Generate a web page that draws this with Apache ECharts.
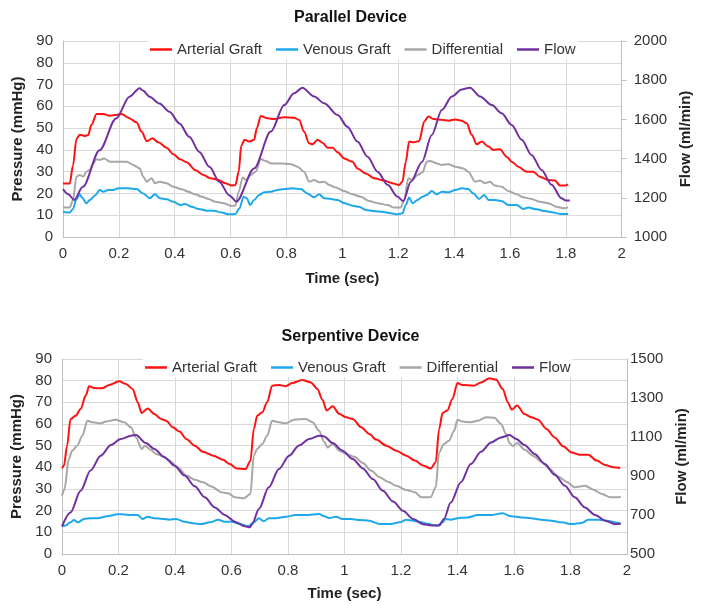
<!DOCTYPE html>
<html>
<head>
<meta charset="utf-8">
<script src="https://cdn.jsdelivr.net/npm/echarts@6/dist/echarts.min.js"></script>
<style>
  html, body { margin: 0; padding: 0; background: #fff; }
  #main { width: 701px; height: 610px; }
</style>
</head>
<body>
<div id="main"></div>
<script>
// ---- data: [time (sec), value] ----
var seriesNames = ['Arterial Graft', 'Venous Graft', 'Differential', 'Flow'];
var xTicks = [0, 0.2, 0.4, 0.6, 0.8, 1, 1.2, 1.4, 1.6, 1.8, 2];

// Parallel Device (pressure mmHg, flow ml/min)
var parArterial = [[0,24.6],[0.024,24.6],[0.036,33],[0.048,45],[0.06,47],[0.078,46.4],[0.09,46.8],[0.102,51.5],[0.12,56.5],[0.144,56.5],[0.168,55.7],[0.186,56],[0.21,56.5],[0.234,54.8],[0.263,52.7],[0.281,48.4],[0.3,44],[0.32,45.3],[0.341,43.5],[0.371,41],[0.395,38],[0.419,35.7],[0.443,34.3],[0.473,30.8],[0.503,28.5],[0.527,27],[0.557,26.2],[0.58,24.7],[0.605,23.6],[0.617,23.9],[0.629,30],[0.638,42],[0.65,44.6],[0.666,43.8],[0.684,44.6],[0.694,50],[0.708,55.6],[0.732,54.5],[0.756,54.2],[0.792,55],[0.827,54.8],[0.845,53.8],[0.863,48.4],[0.881,43],[0.893,42.6],[0.911,44.6],[0.929,43.3],[0.947,41],[0.965,41],[0.983,38.9],[1.007,36.1],[1.036,34.6],[1.054,31.5],[1.084,29.2],[1.113,27],[1.149,25.9],[1.179,24.7],[1.203,23.9],[1.215,25.4],[1.227,34.6],[1.239,43.8],[1.257,43.5],[1.275,44.1],[1.293,53],[1.308,55.3],[1.326,54.2],[1.356,53.8],[1.38,53.4],[1.404,54],[1.427,53.4],[1.445,52.2],[1.463,46.9],[1.481,42.6],[1.499,43.8],[1.523,41.5],[1.54,40],[1.564,40.3],[1.588,36.9],[1.606,34.6],[1.63,32.3],[1.659,30],[1.683,30],[1.707,27.7],[1.737,26.2],[1.761,25.9],[1.779,23.6],[1.796,23.6],[1.808,24.2]];
var parVenous = [[0,11.6],[0.024,11.2],[0.036,12.9],[0.048,17.3],[0.06,19.6],[0.068,18.1],[0.084,15.5],[0.096,17],[0.114,19],[0.132,21.6],[0.144,20.8],[0.162,21.6],[0.18,21.6],[0.198,22.4],[0.234,22.4],[0.263,22],[0.287,20],[0.311,17.8],[0.329,19.6],[0.347,17.8],[0.371,17.3],[0.395,16.2],[0.419,14.7],[0.437,15.2],[0.461,13.9],[0.485,12.9],[0.515,12.1],[0.539,12.1],[0.569,11.2],[0.593,10.4],[0.617,10.6],[0.632,13.2],[0.646,18.5],[0.658,17.8],[0.67,14.7],[0.684,17],[0.702,19.3],[0.72,20.5],[0.744,20.8],[0.768,21.6],[0.792,22],[0.821,22.4],[0.851,22],[0.875,20],[0.899,18.2],[0.917,19.6],[0.935,17.8],[0.959,17.5],[0.983,17],[1.007,15.5],[1.036,14.4],[1.06,13.9],[1.084,12.4],[1.113,11.9],[1.143,11.6],[1.173,10.9],[1.197,10.4],[1.215,10.9],[1.227,14.7],[1.239,18.1],[1.251,15.5],[1.269,17],[1.287,18.5],[1.302,19.3],[1.32,21.1],[1.338,19.6],[1.356,20.8],[1.38,20.5],[1.404,21.6],[1.427,22.4],[1.451,22],[1.469,20],[1.489,17.5],[1.508,19.3],[1.523,17],[1.546,17],[1.57,16.5],[1.594,14.7],[1.624,14.7],[1.648,12.9],[1.665,13.5],[1.695,12.7],[1.725,11.9],[1.755,11.3],[1.779,10.6],[1.808,10.6]];
var parDiff = [[0,13.5],[0.024,13.5],[0.036,17],[0.048,27.7],[0.06,28.5],[0.072,27.7],[0.084,30],[0.096,30.8],[0.108,33.8],[0.12,35.7],[0.132,35.4],[0.147,36.1],[0.168,34.6],[0.198,34.6],[0.228,34.6],[0.251,33.1],[0.275,31.5],[0.287,27.7],[0.3,25.4],[0.317,27],[0.329,24.7],[0.347,25.4],[0.371,24.7],[0.395,23.1],[0.425,21.9],[0.449,20.8],[0.473,19.6],[0.497,18.5],[0.521,17.5],[0.545,16.2],[0.575,15.5],[0.599,14.4],[0.617,14.4],[0.629,20.8],[0.643,27.3],[0.656,26.2],[0.672,28.5],[0.69,30],[0.708,35.8],[0.726,34.9],[0.744,33.8],[0.78,33.8],[0.816,33.4],[0.839,32.3],[0.863,30],[0.881,25.4],[0.899,26.2],[0.917,25.1],[0.935,25.4],[0.953,23.9],[0.977,22.7],[1.007,21.1],[1.036,19.6],[1.066,18.5],[1.096,16.5],[1.126,15.5],[1.162,14.7],[1.185,13.5],[1.209,13.5],[1.221,17],[1.236,27],[1.251,26.2],[1.269,28.5],[1.287,29.7],[1.302,34.6],[1.314,34.9],[1.338,33.8],[1.356,33.1],[1.38,33.4],[1.404,32.3],[1.433,31.5],[1.451,30],[1.475,25.4],[1.493,25.9],[1.511,24.7],[1.528,25.4],[1.546,23.6],[1.57,23.1],[1.594,21.1],[1.624,19.6],[1.648,18.2],[1.677,17.5],[1.707,16.2],[1.737,15.5],[1.767,13.9],[1.79,13.2],[1.808,13.6]];
var parFlow = [[0,1244],[0.02,1217],[0.04,1189],[0.071,1256],[0.131,1443],[0.19,1604],[0.238,1716],[0.274,1759],[0.286,1747],[0.31,1716],[0.345,1681],[0.381,1639],[0.417,1579],[0.452,1511],[0.488,1434],[0.524,1358],[0.56,1281],[0.595,1213],[0.621,1181],[0.684,1350],[0.744,1538],[0.792,1673],[0.827,1733],[0.857,1762],[0.899,1717],[0.935,1682],[0.983,1622],[1.018,1563],[1.054,1487],[1.09,1410],[1.126,1333],[1.162,1266],[1.197,1206],[1.218,1183],[1.245,1282],[1.285,1383],[1.32,1521],[1.356,1648],[1.392,1717],[1.427,1753],[1.457,1762],[1.493,1717],[1.535,1673],[1.57,1631],[1.606,1572],[1.642,1496],[1.677,1419],[1.713,1342],[1.749,1266],[1.784,1198],[1.8,1186],[1.814,1186]];

// Serpentive Device
var serArterial = [[0,39.5],[0.007,40.8],[0.018,50],[0.03,62.3],[0.048,63.8],[0.066,66.9],[0.084,73.1],[0.096,77.4],[0.113,76.6],[0.143,76.5],[0.167,78],[0.202,79.7],[0.226,78.5],[0.25,76.2],[0.268,70],[0.282,65.1],[0.303,67.2],[0.327,64.6],[0.351,62.3],[0.369,61.5],[0.392,58.5],[0.416,56.5],[0.44,53.1],[0.47,50],[0.499,47.2],[0.535,45.4],[0.57,43.5],[0.594,41.5],[0.618,39.5],[0.65,39.2],[0.667,43],[0.679,57.7],[0.691,63.8],[0.709,65.4],[0.726,70],[0.744,77.7],[0.768,78],[0.792,77.4],[0.815,78.9],[0.851,80.3],[0.881,79.2],[0.904,76.2],[0.922,71.2],[0.937,66.2],[0.958,68.2],[0.982,64.6],[1.005,63.1],[1.029,62.3],[1.059,58.5],[1.088,55.4],[1.112,52.8],[1.148,50],[1.183,47.7],[1.219,45.4],[1.249,43.1],[1.278,40.8],[1.305,39.5],[1.323,42.3],[1.335,57.7],[1.347,65.1],[1.364,66.2],[1.382,71.5],[1.4,78.9],[1.418,78],[1.459,77.7],[1.483,79.2],[1.513,81.1],[1.536,80.5],[1.56,76.2],[1.578,70],[1.592,66.6],[1.611,68.5],[1.637,64.6],[1.661,63.1],[1.685,62],[1.715,57.7],[1.744,53.8],[1.774,49.7],[1.804,46.9],[1.833,45.8],[1.863,45.8],[1.893,43.1],[1.922,41.1],[1.952,40],[1.976,39.7]];
var serVenous = [[0,12.8],[0.012,13.1],[0.03,14.6],[0.042,15.7],[0.056,14.6],[0.078,16.2],[0.101,16.5],[0.125,16.5],[0.161,17.4],[0.196,18.3],[0.214,18.3],[0.244,18],[0.268,18],[0.285,16.2],[0.303,17.2],[0.327,16.5],[0.357,16.2],[0.38,15.8],[0.404,16.2],[0.434,14.9],[0.464,14.2],[0.493,13.8],[0.523,14.6],[0.553,15.8],[0.576,14.9],[0.6,14.9],[0.63,13.8],[0.659,12.8],[0.679,14.6],[0.697,16.5],[0.714,15.1],[0.732,16.5],[0.756,16.5],[0.792,17.2],[0.827,18],[0.863,18],[0.91,18.5],[0.928,17.4],[0.946,16.6],[0.97,17.2],[0.993,16.2],[1.023,16.2],[1.053,15.7],[1.088,15.4],[1.124,13.8],[1.16,13.8],[1.195,14.6],[1.219,15.8],[1.243,15.4],[1.272,14.6],[1.296,13.8],[1.329,13.1],[1.347,14.6],[1.358,16.2],[1.376,15.8],[1.4,16.5],[1.436,16.9],[1.471,18],[1.519,18],[1.56,18.8],[1.59,17.4],[1.626,16.9],[1.661,16.5],[1.697,15.8],[1.732,15.4],[1.768,14.6],[1.804,13.8],[1.84,14.3],[1.863,15.8],[1.899,15.8],[1.929,15.4],[1.958,14.6],[1.978,13.8]];
var serDiff = [[0,26.9],[0.009,30],[0.024,43.8],[0.036,47.7],[0.054,50],[0.072,54.6],[0.09,61.5],[0.107,60.8],[0.137,60.3],[0.155,61.1],[0.19,62],[0.22,60.8],[0.244,58.5],[0.262,53.8],[0.282,48.5],[0.294,50],[0.315,48],[0.333,46.2],[0.357,45.1],[0.38,43.1],[0.41,40],[0.44,36.2],[0.47,34.3],[0.499,33.1],[0.529,31.2],[0.564,28.5],[0.588,28],[0.612,26.2],[0.643,25.7],[0.667,27.7],[0.679,45.4],[0.691,48.5],[0.709,50.8],[0.726,54.6],[0.744,61.5],[0.768,60.8],[0.792,60.3],[0.821,62],[0.863,62.3],[0.887,60.8],[0.91,56.9],[0.928,51.8],[0.94,49.2],[0.958,50.8],[0.982,47.7],[1.005,46.2],[1.035,44.9],[1.065,42],[1.094,38.5],[1.124,35.4],[1.154,33.4],[1.183,31.5],[1.219,29.5],[1.249,28.5],[1.272,26.2],[1.305,26.2],[1.323,30.8],[1.335,46.9],[1.352,50.8],[1.37,52.3],[1.388,56.9],[1.4,62],[1.418,61.1],[1.447,60.8],[1.471,61.5],[1.501,63.1],[1.531,62.9],[1.554,60],[1.572,55.4],[1.584,51.2],[1.596,49.7],[1.611,51.2],[1.637,48.2],[1.667,45.4],[1.697,42.6],[1.726,39.2],[1.756,35.8],[1.786,33.4],[1.815,30.8],[1.851,31.5],[1.881,29.7],[1.911,27.7],[1.941,26.2],[1.97,26.2],[1.978,26.5]];
var serFlow = [[0,642],[0.03,713],[0.066,824],[0.101,928],[0.137,1004],[0.173,1059],[0.208,1090],[0.244,1107],[0.262,1110],[0.297,1069],[0.327,1039],[0.363,996],[0.398,953],[0.434,902],[0.47,847],[0.505,791],[0.541,739],[0.576,700],[0.612,666],[0.647,642],[0.665,637],[0.673,653],[0.697,731],[0.732,842],[0.768,936],[0.804,1004],[0.839,1056],[0.875,1090],[0.91,1107],[0.928,1103],[0.958,1069],[0.993,1030],[1.029,987],[1.065,939],[1.1,884],[1.136,824],[1.172,769],[1.207,722],[1.243,680],[1.278,653],[1.308,646],[1.335,646],[1.352,680],[1.376,764],[1.412,868],[1.447,961],[1.483,1024],[1.519,1072],[1.554,1098],[1.584,1110],[1.608,1090],[1.637,1059],[1.673,1013],[1.709,961],[1.744,906],[1.78,850],[1.815,791],[1.851,739],[1.887,700],[1.923,671],[1.958,653],[1.978,656]];

var colors = ['#ff1111', '#1ea8ec', '#a6a6a6', '#7030a0'];
var font = 'Liberation Sans, Arial, sans-serif';
var gridColor = '#d9d9d9';
var axisColor = '#bfbfbf';

function xAxisFor(gridIndex, gap) {
  return {
    type: 'value', gridIndex: gridIndex, min: 0, max: 2, interval: 0.2,
    name: 'Time (sec)', nameLocation: 'middle', nameGap: gap,
    nameTextStyle: { fontFamily: font, fontWeight: 'bold', fontSize: 15, color: '#222' },
    axisLine: { show: true, lineStyle: { color: axisColor } },
    axisTick: { show: false },
    axisLabel: { fontFamily: font, fontSize: 15, color: '#333', margin: 9 },
    splitLine: { show: true, lineStyle: { color: gridColor } }
  };
}

function leftAxisFor(gridIndex, gap) {
  return {
    type: 'value', gridIndex: gridIndex, position: 'left', min: 0, max: 90, interval: 10,
    name: 'Pressure (mmHg)', nameLocation: 'middle', nameGap: gap,
    nameTextStyle: { fontFamily: font, fontWeight: 'bold', fontSize: 15, color: '#222' },
    axisLine: { show: true, lineStyle: { color: axisColor } },
    axisTick: { show: false },
    axisLabel: { fontFamily: font, fontSize: 15, color: '#333', margin: 10 },
    splitLine: { show: true, lineStyle: { color: gridColor } }
  };
}

function rightAxisFor(gridIndex, min, max, gap, margin, ticks) {
  return {
    type: 'value', gridIndex: gridIndex, position: 'right', min: min, max: max, interval: 200,
    name: 'Flow (ml/min)', nameLocation: 'middle', nameGap: gap,
    nameTextStyle: { fontFamily: font, fontWeight: 'bold', fontSize: 15, color: '#222' },
    axisLine: { show: true, lineStyle: { color: axisColor } },
    axisTick: { show: ticks, inside: false, length: 5, lineStyle: { color: axisColor } },
    axisLabel: { fontFamily: font, fontSize: 15, color: '#333', margin: margin,
      formatter: function (v) { return String(v); } },
    splitLine: { show: false }
  };
}

function lineSeries(name, data, color, xi, yi) {
  return {
    name: name, type: 'line', xAxisIndex: xi, yAxisIndex: yi,
    data: data, showSymbol: false, symbol: 'none',
    smooth: 0.3, smoothMonotone: 'x',
    lineStyle: { color: color, width: 2 },
    itemStyle: { color: color }
  };
}

function legendFor(top, left) {
  return {
    top: top, left: left, itemGap: 14, itemWidth: 22, itemHeight: 2.5,
    icon: 'rect', padding: 2, backgroundColor: '#fff',
    textStyle: { fontFamily: font, fontSize: 15, color: '#333' },
    data: seriesNames
  };
}

var chart = echarts.init(document.getElementById('main'));
chart.setOption({
  animation: false,
  backgroundColor: '#fff',
  title: [
    { text: 'Parallel Device', left: 'center', top: 5,
      textStyle: { fontFamily: font, fontSize: 16, fontWeight: 'bold', color: '#111' } },
    { text: 'Serpentive Device', left: 'center', top: 324,
      textStyle: { fontFamily: font, fontSize: 16, fontWeight: 'bold', color: '#111' } }
  ],
  legend: [legendFor(40, 148), legendFor(358, 143)],
  grid: [
    { left: 63, right: 76, top: 41, height: 196 },
    { left: 62, right: 74, top: 359, height: 195 }
  ],
  xAxis: [xAxisFor(0, 34), xAxisFor(1, 32)],
  yAxis: [
    leftAxisFor(0, 38),
    rightAxisFor(0, 1000, 2000, 52, 12, true),
    leftAxisFor(1, 37),
    rightAxisFor(1, 500, 1500, 35, 3, false)
  ],
  series: [
    lineSeries(seriesNames[0], parArterial, colors[0], 0, 0),
    lineSeries(seriesNames[1], parVenous, colors[1], 0, 0),
    lineSeries(seriesNames[2], parDiff, colors[2], 0, 0),
    lineSeries(seriesNames[3], parFlow, colors[3], 0, 1),
    lineSeries(seriesNames[0], serArterial, colors[0], 1, 2),
    lineSeries(seriesNames[1], serVenous, colors[1], 1, 2),
    lineSeries(seriesNames[2], serDiff, colors[2], 1, 2),
    lineSeries(seriesNames[3], serFlow, colors[3], 1, 3)
  ]
});
</script>
</body>
</html>
